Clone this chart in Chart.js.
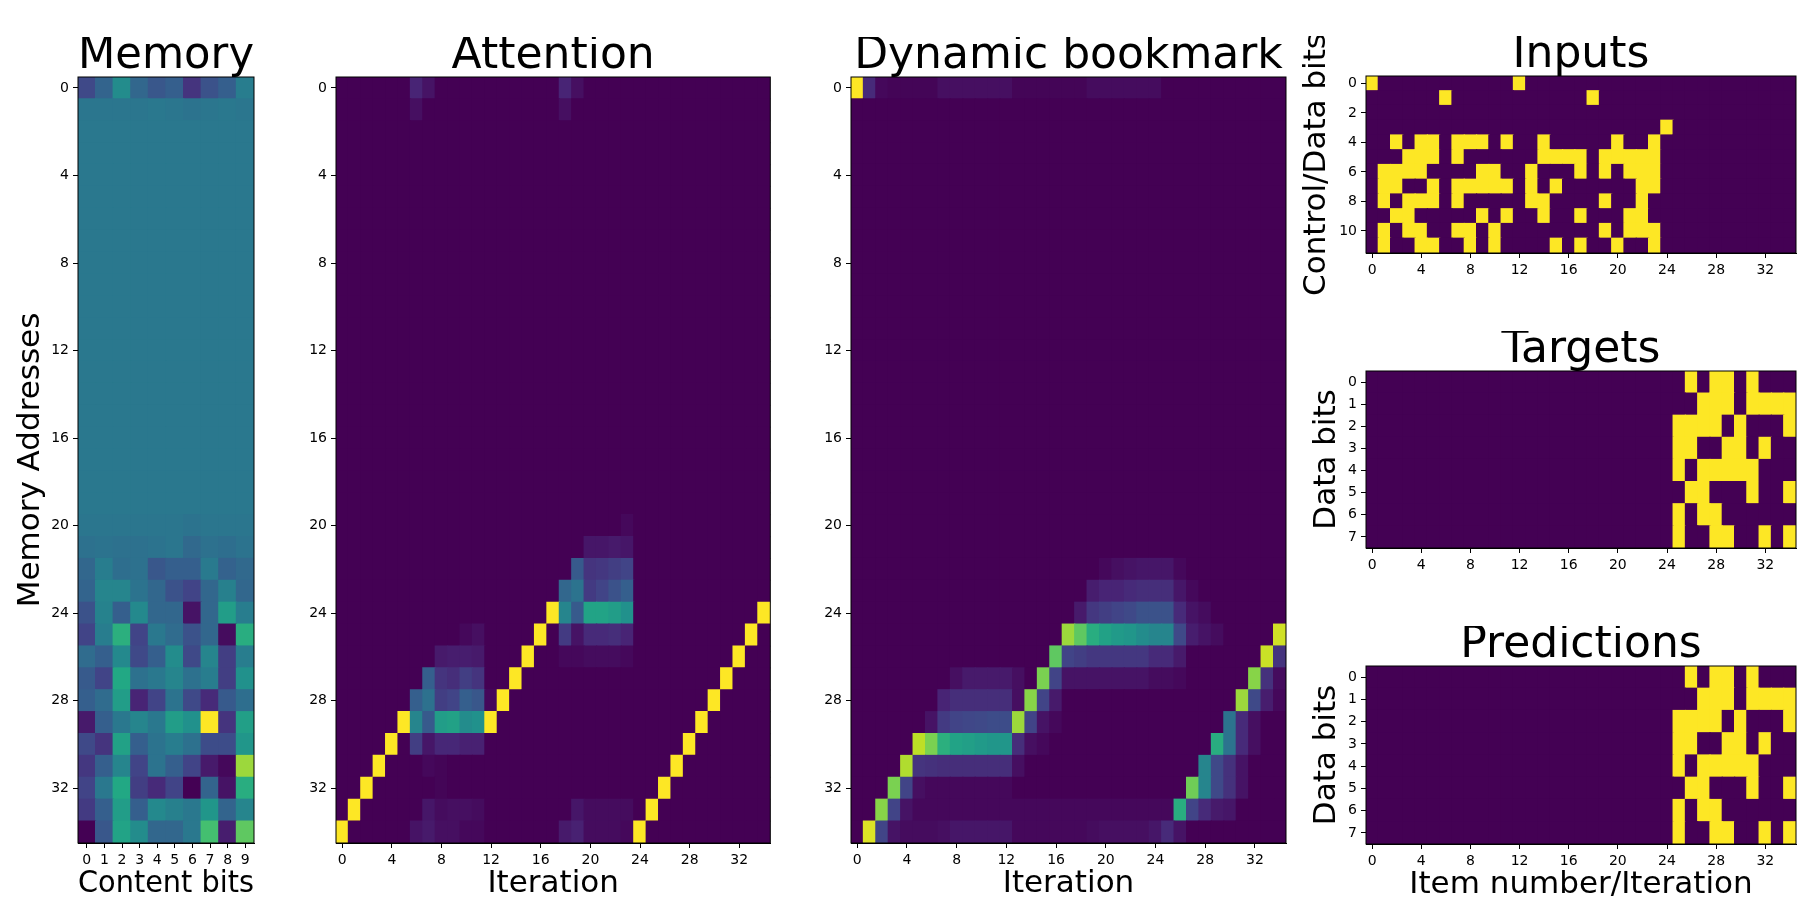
<!DOCTYPE html>
<html>
<head>
<meta charset="utf-8">
<script src="https://cdn.jsdelivr.net/npm/chart.js@4.4.0/dist/chart.umd.min.js"></script>
<style>
  body { margin: 0; background: #fff; width: 1819px; height: 916px; position: relative; overflow: hidden; }
  .panel { position: absolute; }
</style>
</head>
<body>
<div class="panel" id="memory"><canvas></canvas></div>
<div class="panel" id="attention"><canvas></canvas></div>
<div class="panel" id="bookmark"><canvas></canvas></div>
<div class="panel" id="inputs"><canvas></canvas></div>
<div class="panel" id="targets"><canvas></canvas></div>
<div class="panel" id="predictions"><canvas></canvas></div>
<script>
// ---- data ----
const contentBits = [0, 1, 2, 3, 4, 5, 6, 7, 8, 9];
const addressTicks = [0, 4, 8, 12, 16, 20, 24, 28, 32];
const iterationTicks = [0, 4, 8, 12, 16, 20, 24, 28, 32];
const inputBitTicks = [0, 2, 4, 6, 8, 10];
const dataBitTicks = [0, 1, 2, 3, 4, 5, 6, 7];

// memory contents (normalised colour value), 35 addresses x 10 bits
const memory = [
  [.22,.32,.48,.33,.27,.30,.15,.25,.30,.42],
  [.39,.39,.39,.39,.40,.39,.38,.39,.40,.39],
  [.40,.40,.40,.40,.40,.40,.40,.40,.40,.40],
  [.40,.40,.40,.40,.40,.40,.40,.40,.40,.40],
  [.40,.40,.40,.40,.40,.40,.40,.40,.40,.40],
  [.40,.40,.40,.40,.40,.40,.40,.40,.40,.40],
  [.40,.40,.40,.40,.40,.40,.40,.40,.40,.40],
  [.40,.40,.40,.40,.40,.40,.40,.40,.40,.40],
  [.40,.40,.40,.40,.40,.40,.40,.40,.40,.40],
  [.40,.40,.40,.40,.40,.40,.40,.40,.40,.40],
  [.40,.40,.40,.40,.40,.40,.40,.40,.40,.40],
  [.40,.40,.40,.40,.40,.40,.40,.40,.40,.40],
  [.40,.40,.40,.40,.40,.40,.40,.40,.40,.40],
  [.40,.40,.40,.40,.40,.40,.40,.40,.40,.40],
  [.40,.40,.40,.40,.40,.40,.40,.40,.40,.40],
  [.40,.40,.40,.40,.40,.40,.40,.40,.40,.40],
  [.40,.40,.40,.40,.40,.40,.40,.40,.40,.40],
  [.40,.40,.40,.40,.40,.40,.40,.40,.40,.40],
  [.40,.40,.40,.40,.40,.40,.40,.40,.40,.40],
  [.40,.40,.40,.40,.40,.40,.40,.40,.40,.40],
  [.39,.39,.39,.39,.39,.39,.38,.39,.39,.39],
  [.37,.38,.37,.37,.38,.39,.34,.37,.36,.38],
  [.33,.42,.36,.37,.27,.30,.30,.41,.31,.34],
  [.32,.45,.45,.38,.33,.25,.20,.33,.43,.33],
  [.25,.44,.30,.47,.33,.33,.05,.33,.55,.42],
  [.20,.42,.63,.20,.40,.35,.25,.33,.03,.62],
  [.35,.30,.47,.22,.30,.48,.22,.45,.18,.42],
  [.28,.20,.60,.37,.40,.45,.37,.42,.18,.50],
  [.30,.35,.55,.10,.20,.38,.22,.12,.28,.36],
  [.07,.30,.40,.45,.40,.55,.50,1.0,.15,.56],
  [.22,.15,.57,.30,.38,.42,.37,.23,.23,.52],
  [.16,.30,.45,.20,.38,.30,.20,.07,.02,.85],
  [.20,.40,.60,.18,.12,.20,0,.32,.05,.62],
  [.17,.30,.55,.30,.47,.43,.40,.52,.32,.45],
  [0,.27,.58,.48,.33,.33,.40,.70,.08,.75]
];

// attention weights, 35 addresses (rows) x 35 iterations (cols)
const attention = [
  [0,0,0,0,0, 0,.1,.05,0,0, 0,0,0,0,0, 0,0,0,.1,.04, 0,0,0,0,0, 0,0,0,0,0, 0,0,0,0,0],
  [0,0,0,0,0, 0,.04,0,0,0, 0,0,0,0,0, 0,0,0,.04,0, 0,0,0,0,0, 0,0,0,0,0, 0,0,0,0,0],
  [0,0,0,0,0, 0,0,0,0,0, 0,0,0,0,0, 0,0,0,0,0, 0,0,0,0,0, 0,0,0,0,0, 0,0,0,0,0],
  [0,0,0,0,0, 0,0,0,0,0, 0,0,0,0,0, 0,0,0,0,0, 0,0,0,0,0, 0,0,0,0,0, 0,0,0,0,0],
  [0,0,0,0,0, 0,0,0,0,0, 0,0,0,0,0, 0,0,0,0,0, 0,0,0,0,0, 0,0,0,0,0, 0,0,0,0,0],
  [0,0,0,0,0, 0,0,0,0,0, 0,0,0,0,0, 0,0,0,0,0, 0,0,0,0,0, 0,0,0,0,0, 0,0,0,0,0],
  [0,0,0,0,0, 0,0,0,0,0, 0,0,0,0,0, 0,0,0,0,0, 0,0,0,0,0, 0,0,0,0,0, 0,0,0,0,0],
  [0,0,0,0,0, 0,0,0,0,0, 0,0,0,0,0, 0,0,0,0,0, 0,0,0,0,0, 0,0,0,0,0, 0,0,0,0,0],
  [0,0,0,0,0, 0,0,0,0,0, 0,0,0,0,0, 0,0,0,0,0, 0,0,0,0,0, 0,0,0,0,0, 0,0,0,0,0],
  [0,0,0,0,0, 0,0,0,0,0, 0,0,0,0,0, 0,0,0,0,0, 0,0,0,0,0, 0,0,0,0,0, 0,0,0,0,0],
  [0,0,0,0,0, 0,0,0,0,0, 0,0,0,0,0, 0,0,0,0,0, 0,0,0,0,0, 0,0,0,0,0, 0,0,0,0,0],
  [0,0,0,0,0, 0,0,0,0,0, 0,0,0,0,0, 0,0,0,0,0, 0,0,0,0,0, 0,0,0,0,0, 0,0,0,0,0],
  [0,0,0,0,0, 0,0,0,0,0, 0,0,0,0,0, 0,0,0,0,0, 0,0,0,0,0, 0,0,0,0,0, 0,0,0,0,0],
  [0,0,0,0,0, 0,0,0,0,0, 0,0,0,0,0, 0,0,0,0,0, 0,0,0,0,0, 0,0,0,0,0, 0,0,0,0,0],
  [0,0,0,0,0, 0,0,0,0,0, 0,0,0,0,0, 0,0,0,0,0, 0,0,0,0,0, 0,0,0,0,0, 0,0,0,0,0],
  [0,0,0,0,0, 0,0,0,0,0, 0,0,0,0,0, 0,0,0,0,0, 0,0,0,0,0, 0,0,0,0,0, 0,0,0,0,0],
  [0,0,0,0,0, 0,0,0,0,0, 0,0,0,0,0, 0,0,0,0,0, 0,0,0,0,0, 0,0,0,0,0, 0,0,0,0,0],
  [0,0,0,0,0, 0,0,0,0,0, 0,0,0,0,0, 0,0,0,0,0, 0,0,0,0,0, 0,0,0,0,0, 0,0,0,0,0],
  [0,0,0,0,0, 0,0,0,0,0, 0,0,0,0,0, 0,0,0,0,0, 0,0,0,0,0, 0,0,0,0,0, 0,0,0,0,0],
  [0,0,0,0,0, 0,0,0,0,0, 0,0,0,0,0, 0,0,0,0,0, 0,0,0,0,0, 0,0,0,0,0, 0,0,0,0,0],
  [0,0,0,0,0, 0,0,0,0,0, 0,0,0,0,0, 0,0,0,0,0, 0,0,0,.02,0, 0,0,0,0,0, 0,0,0,0,0],
  [0,0,0,0,0, 0,0,0,0,0, 0,0,0,0,0, 0,0,0,0,0, .06,.06,.07,.06,0, 0,0,0,0,0, 0,0,0,0,0],
  [0,0,0,0,0, 0,0,0,0,0, 0,0,0,0,0, 0,0,0,0,.28, .15,.16,.18,.2,0, 0,0,0,0,0, 0,0,0,0,0],
  [0,0,0,0,0, 0,0,0,0,0, 0,0,0,0,0, 0,0,0,.33,.38, .17,.2,.25,.3,0, 0,0,0,0,0, 0,0,0,0,0],
  [0,0,0,0,0, 0,0,0,0,0, 0,0,0,0,0, 0,0,1,.45,.28, .58,.58,.55,.5,0, 0,0,0,0,0, 0,0,0,0,1],
  [0,0,0,0,0, 0,0,0,0,0, .02,.04,0,0,0, 0,1,0,.17,.05, .12,.12,.13,.1,0, 0,0,0,0,0, 0,0,0,1,0],
  [0,0,0,0,0, 0,0,0,.07,.08, .08,.07,0,0,0, 1,0,0,.02,.02, .03,.03,.03,.02,0, 0,0,0,0,0, 0,0,1,0,0],
  [0,0,0,0,0, 0,0,.3,.15,.13, .18,.15,0,0,1, 0,0,0,0,0, 0,0,0,0,0, 0,0,0,0,0, 0,1,0,0,0],
  [0,0,0,0,0, 0,.3,.37,.18,.2, .3,.27,.02,1,0, 0,0,0,0,0, 0,0,0,0,0, 0,0,0,0,0, 1,0,0,0,0],
  [0,0,0,0,0, 1,.45,.28,.55,.57, .48,.5,1,0,0, 0,0,0,0,0, 0,0,0,0,0, 0,0,0,0,1, 0,0,0,0,0],
  [0,0,0,0,1, 0,.18,.06,.11,.11, .09,.09,0,0,0, 0,0,0,0,0, 0,0,0,0,0, 0,0,0,1,0, 0,0,0,0,0],
  [0,0,0,1,0, 0,0,.02,.01,0, 0,0,0,0,0, 0,0,0,0,0, 0,0,0,0,0, 0,0,1,0,0, 0,0,0,0,0],
  [0,0,1,0,0, 0,0,0,.01,0, 0,0,0,0,0, 0,0,0,0,0, 0,0,0,0,0, 0,1,0,0,0, 0,0,0,0,0],
  [0,1,0,0,0, 0,0,.06,.03,.04, .04,.03,0,0,0, 0,0,0,0,.06, .03,.03,.03,.03,0, 1,0,0,0,0, 0,0,0,0,0],
  [1,0,0,0,0, 0,.05,.07,.04,.04, .02,.02,0,0,0, 0,0,0,.07,.09, .03,.03,.03,.02,1, 0,0,0,0,0, 0,0,0,0,0]
];

// dynamic bookmark weights, 35 addresses (rows) x 35 iterations (cols)
const bookmark = [
  [1,.12,.02,.01,.01, .01,.01,.04,.04,.04, .04,.04,.04,.01,.01, .01,.01,.01,.01,.03, .03,.03,.03,.03,.03, 0,0,0,0,0, 0,0,0,0,0],
  [0,0,0,0,0, 0,0,0,0,0, 0,0,0,0,0, 0,0,0,0,0, 0,0,0,0,0, 0,0,0,0,0, 0,0,0,0,0],
  [0,0,0,0,0, 0,0,0,0,0, 0,0,0,0,0, 0,0,0,0,0, 0,0,0,0,0, 0,0,0,0,0, 0,0,0,0,0],
  [0,0,0,0,0, 0,0,0,0,0, 0,0,0,0,0, 0,0,0,0,0, 0,0,0,0,0, 0,0,0,0,0, 0,0,0,0,0],
  [0,0,0,0,0, 0,0,0,0,0, 0,0,0,0,0, 0,0,0,0,0, 0,0,0,0,0, 0,0,0,0,0, 0,0,0,0,0],
  [0,0,0,0,0, 0,0,0,0,0, 0,0,0,0,0, 0,0,0,0,0, 0,0,0,0,0, 0,0,0,0,0, 0,0,0,0,0],
  [0,0,0,0,0, 0,0,0,0,0, 0,0,0,0,0, 0,0,0,0,0, 0,0,0,0,0, 0,0,0,0,0, 0,0,0,0,0],
  [0,0,0,0,0, 0,0,0,0,0, 0,0,0,0,0, 0,0,0,0,0, 0,0,0,0,0, 0,0,0,0,0, 0,0,0,0,0],
  [0,0,0,0,0, 0,0,0,0,0, 0,0,0,0,0, 0,0,0,0,0, 0,0,0,0,0, 0,0,0,0,0, 0,0,0,0,0],
  [0,0,0,0,0, 0,0,0,0,0, 0,0,0,0,0, 0,0,0,0,0, 0,0,0,0,0, 0,0,0,0,0, 0,0,0,0,0],
  [0,0,0,0,0, 0,0,0,0,0, 0,0,0,0,0, 0,0,0,0,0, 0,0,0,0,0, 0,0,0,0,0, 0,0,0,0,0],
  [0,0,0,0,0, 0,0,0,0,0, 0,0,0,0,0, 0,0,0,0,0, 0,0,0,0,0, 0,0,0,0,0, 0,0,0,0,0],
  [0,0,0,0,0, 0,0,0,0,0, 0,0,0,0,0, 0,0,0,0,0, 0,0,0,0,0, 0,0,0,0,0, 0,0,0,0,0],
  [0,0,0,0,0, 0,0,0,0,0, 0,0,0,0,0, 0,0,0,0,0, 0,0,0,0,0, 0,0,0,0,0, 0,0,0,0,0],
  [0,0,0,0,0, 0,0,0,0,0, 0,0,0,0,0, 0,0,0,0,0, 0,0,0,0,0, 0,0,0,0,0, 0,0,0,0,0],
  [0,0,0,0,0, 0,0,0,0,0, 0,0,0,0,0, 0,0,0,0,0, 0,0,0,0,0, 0,0,0,0,0, 0,0,0,0,0],
  [0,0,0,0,0, 0,0,0,0,0, 0,0,0,0,0, 0,0,0,0,0, 0,0,0,0,0, 0,0,0,0,0, 0,0,0,0,0],
  [0,0,0,0,0, 0,0,0,0,0, 0,0,0,0,0, 0,0,0,0,0, 0,0,0,0,0, 0,0,0,0,0, 0,0,0,0,0],
  [0,0,0,0,0, 0,0,0,0,0, 0,0,0,0,0, 0,0,0,0,0, 0,0,0,0,0, 0,0,0,0,0, 0,0,0,0,0],
  [0,0,0,0,0, 0,0,0,0,0, 0,0,0,0,0, 0,0,0,0,0, 0,0,0,0,0, 0,0,0,0,0, 0,0,0,0,0],
  [0,0,0,0,0, 0,0,0,0,0, 0,0,0,0,0, 0,0,0,0,0, 0,0,0,0,0, 0,0,0,0,0, 0,0,0,0,0],
  [0,0,0,0,0, 0,0,0,0,0, 0,0,0,0,0, 0,0,0,0,0, 0,0,0,0,0, 0,0,0,0,0, 0,0,0,0,0],
  [0,0,0,0,0, 0,0,0,0,0, 0,0,0,0,0, 0,0,0,0,0, .02,.04,.05,.06,.06, .06,.02,0,0,0, 0,0,0,0,0],
  [0,0,0,0,0, 0,0,0,0,0, 0,0,0,0,0, 0,0,0,0,.08, .1,.1,.12,.13,.13, .13,.06,.02,0,0, 0,0,0,0,0],
  [0,0,0,0,0, 0,0,0,0,0, 0,0,0,0,0, 0,0,0,.07,.16, .18,.2,.22,.25,.25, .25,.12,.05,.03,0, 0,0,0,0,0],
  [0,0,0,0,0, 0,0,0,0,0, 0,0,0,0,0, 0,0,.85,.75,.62, .57,.54,.52,.48,.45, .45,.22,.08,.05,.03, 0,0,0,0,.93],
  [0,0,0,0,0, 0,0,0,0,0, 0,0,0,0,0, 0,.75,.2,.18,.16, .16,.16,.16,.16,.12, .12,.07,0,0,0, 0,0,0,.92,.15],
  [0,0,0,0,0, 0,0,0,.04,.07, .07,.07,.07,.04,0, .8,.2,.05,.05,.05, .05,.05,.05,.05,.03, .03,.02,0,0,0, 0,0,.82,.14,.03],
  [0,0,0,0,0, 0,0,.1,.13,.13, .13,.13,.13,.04,.82, .2,.07,0,0,0, 0,0,0,0,0, 0,0,0,0,0, 0,.85,.22,.08,.02],
  [0,0,0,0,0, 0,.05,.17,.2,.21, .22,.23,.23,.85,.2, .05,.02,0,0,0, 0,0,0,0,0, 0,0,0,0,0, .38,.12,.04,0,0],
  [0,0,0,0,0, .9,.8,.63,.58,.56, .54,.52,.52,.13,.04, .02,0,0,0,0, 0,0,0,0,0, 0,0,0,0,.62, .38,.12,.04,0,0],
  [0,0,0,0,.88, .15,.14,.13,.13,.13, .13,.13,.13,.04,0, 0,0,0,0,0, 0,0,0,0,0, 0,0,0,.45,.22, .14,.05,0,0,0],
  [0,0,0,.8,.2, .04,.02,.02,.02,.02, .02,.02,.02,0,0, 0,0,0,0,0, 0,0,0,0,0, 0,0,.78,.45,.22, .14,.05,0,0,0],
  [0,0,.82,.2,.05, .02,.02,.02,.02,.02, .02,.02,.02,.02,.02, .02,.02,.02,.02,.02, .02,.02,.02,.02,.02, .02,.62,.2,.12,.07, .06,0,0,0,0],
  [0,.95,.2,.05,.03, .03,.03,.04,.06,.06, .06,.06,.06,.02,.02, .02,.02,.02,.02,.03, .04,.04,.04,.04,.06, .12,.05,0,0,0, 0,0,0,0,0]
];

// binary inputs (12 control/data bits x 35 items), targets and predictions (8 data bits x 35)
const inputs = [
  '10000 00000 00100 00000 00000 00000 00000',
  '00000 01000 00000 00010 00000 00000 00000',
  '00000 00000 00000 00000 00000 00000 00000',
  '00000 00000 00000 00000 00001 00000 00000',
  '00101 10111 01001 00000 10010 00000 00000',
  '00011 10100 00001 11101 11110 00000 00000',
  '01111 00001 10010 00101 01110 00000 00000',
  '01100 10111 11010 10000 00110 00000 00000',
  '01011 10100 00011 00001 00100 00000 00000',
  '00110 00001 01001 00100 01100 00000 00000',
  '01011 00110 10000 00001 01110 00000 00000',
  '01001 10010 10000 10100 10010 00000 00000'
];
const targets = [
  '00000 00000 00000 00000 00000 01011 01000',
  '00000 00000 00000 00000 00000 00111 01111',
  '00000 00000 00000 00000 00000 11110 10001',
  '00000 00000 00000 00000 00000 11001 10100',
  '00000 00000 00000 00000 00000 10111 11000',
  '00000 00000 00000 00000 00000 01100 01001',
  '00000 00000 00000 00000 00000 10110 00000',
  '00000 00000 00000 00000 00000 10011 00101'
];
const predictions = [
  '00000 00000 00000 00000 00000 01011 01000',
  '00000 00000 00000 00000 00000 00111 01111',
  '00000 00000 00000 00000 00000 11110 10001',
  '00000 00000 00000 00000 00000 11001 10100',
  '00000 00000 00000 00000 00000 10111 11000',
  '00000 00000 00000 00000 00000 01100 01001',
  '00000 00000 00000 00000 00000 10110 00000',
  '00000 00000 00000 00000 00000 10011 00101'
];

// ---- drawing ----
Chart.defaults.font.family = "'DejaVu Sans', sans-serif";
Chart.defaults.color = '#000';

const VIRIDIS = ['#440154', '#482475', '#414487', '#355f8d', '#2a788e', '#21918c',
                 '#22a884', '#44bf70', '#7ad151', '#bddf26', '#fde725'];

function hexRgb(h) {
  return [parseInt(h.slice(1, 3), 16), parseInt(h.slice(3, 5), 16), parseInt(h.slice(5, 7), 16)];
}

function viridis(v) {
  v = Math.max(0, Math.min(1, v));
  const p = v * 10;
  const i = Math.min(9, Math.floor(p));
  const t = p - i;
  const a = hexRgb(VIRIDIS[i]), b = hexRgb(VIRIDIS[i + 1]);
  const c = a.map((x, k) => Math.round(x + (b[k] - x) * t));
  return 'rgb(' + c.join(',') + ')';
}

function bits(rows) {
  return rows.map(s => s.replace(/ /g, '').split('').map(Number));
}

// every cell is a floating bar spanning one row
function cells(matrix) {
  const data = [], colors = [];
  matrix.forEach((row, r) => {
    row.forEach((v, c) => {
      data.push({ x: c, y: [r - 0.5, r + 0.5] });
      colors.push(viridis(v));
    });
  });
  return { data, colors };
}

// black box round the image like the matplotlib spines
const frame = {
  id: 'frame',
  afterDraw(chart) {
    const { ctx, chartArea: a } = chart;
    ctx.save();
    ctx.strokeStyle = '#000';
    ctx.lineWidth = 1;
    ctx.strokeRect(a.left, a.top, a.right - a.left, a.bottom - a.top);
    ctx.restore();
  }
};

function heatmap(id, matrix, opt) {
  const rows = matrix.length, cols = matrix[0].length;
  const [left, top, right, bottom] = opt.box;
  const titleH = 40, padRight = 8;
  const el = document.getElementById(id);
  el.style.left = (left - opt.yW) + 'px';
  el.style.top = (top - titleH) + 'px';
  el.style.width = (right - left + opt.yW + padRight) + 'px';
  el.style.height = (titleH + bottom - top + opt.xH) + 'px';

  const d = cells(matrix);
  const axisTitle = text => text
    ? { display: true, text: text, color: '#000', font: { size: 31 }, padding: 0 }
    : { display: false };

  new Chart(el.querySelector('canvas'), {
    type: 'bar',
    data: {
      datasets: [{
        data: d.data,
        backgroundColor: d.colors,
        borderWidth: 0,
        inflateAmount: 0.6,
        barPercentage: 1,
        categoryPercentage: 1
      }]
    },
    options: {
      responsive: true,
      maintainAspectRatio: false,
      animation: false,
      layout: { padding: { top: 0, left: 0, bottom: 0, right: padRight } },
      plugins: {
        legend: { display: false },
        tooltip: { enabled: false },
        title: {
          display: true, text: opt.title, fullSize: false, color: '#000',
          font: { size: 44, weight: 'normal', lineHeight: titleH + 'px' },
          padding: 0
        }
      },
      scales: {
        x: {
          type: 'linear', min: -0.5, max: cols - 0.5, offset: false,
          afterBuildTicks: ax => { ax.ticks = opt.xTicks.map(v => ({ value: v })); },
          afterFit: ax => { ax.height = opt.xH; },
          ticks: { autoSkip: false, maxRotation: 0, padding: 4, color: '#000', font: { size: 14 } },
          grid: { offset: false, drawOnChartArea: false, tickLength: 5, color: '#000' },
          border: { color: '#000' },
          title: axisTitle(opt.xTitle)
        },
        y: {
          type: 'linear', reverse: true, min: -0.5, max: rows - 0.5,
          afterBuildTicks: ax => { ax.ticks = opt.yTicks.map(v => ({ value: v })); },
          afterFit: ax => { ax.width = opt.yW; },
          ticks: { autoSkip: false, padding: 4, color: '#000', font: { size: 14 } },
          grid: { drawOnChartArea: false, tickLength: 5, color: '#000' },
          border: { color: '#000' },
          title: axisTitle(opt.yTitle)
        }
      }
    },
    plugins: [frame]
  });
}

heatmap('memory', memory, {
  box: [78, 77, 254, 843], yW: 66, xH: 60,
  title: 'Memory', xTitle: 'Content bits', yTitle: 'Memory Addresses',
  xTicks: contentBits, yTicks: addressTicks
});
heatmap('attention', attention, {
  box: [335.7, 77, 770, 843], yW: 40, xH: 60,
  title: 'Attention', xTitle: 'Iteration',
  xTicks: iterationTicks, yTicks: addressTicks
});
heatmap('bookmark', bookmark, {
  box: [850.7, 77, 1285.7, 843], yW: 40, xH: 60,
  title: 'Dynamic bookmark', xTitle: 'Iteration',
  xTicks: iterationTicks, yTicks: addressTicks
});
heatmap('inputs', bits(inputs), {
  box: [1366, 76, 1796, 253], yW: 68, xH: 48,
  title: 'Inputs', yTitle: 'Control/Data bits',
  xTicks: iterationTicks, yTicks: inputBitTicks
});
heatmap('targets', bits(targets), {
  box: [1366, 371, 1796, 548], yW: 58, xH: 40,
  title: 'Targets', yTitle: 'Data bits',
  xTicks: iterationTicks, yTicks: dataBitTicks
});
heatmap('predictions', bits(predictions), {
  box: [1366, 666, 1796, 844], yW: 58, xH: 60,
  title: 'Predictions', xTitle: 'Item number/Iteration', yTitle: 'Data bits',
  xTicks: iterationTicks, yTicks: dataBitTicks
});
</script>
</body>
</html>
